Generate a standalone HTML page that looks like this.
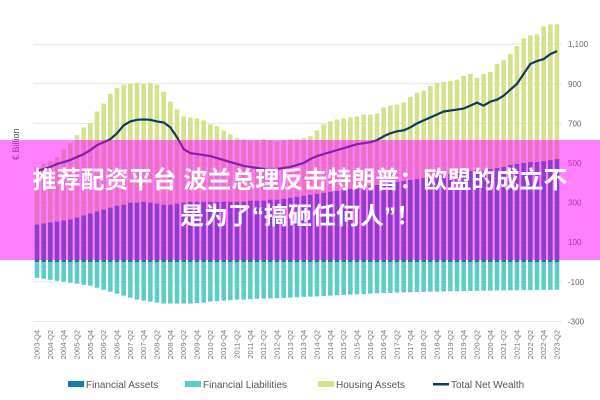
<!DOCTYPE html>
<html><head><meta charset="utf-8">
<style>
html,body{margin:0;padding:0;background:#fff;}
#wrap{position:relative;width:600px;height:400px;overflow:hidden;font-family:"Liberation Sans","Noto Sans CJK SC",sans-serif;}
#overlay{position:absolute;left:0;top:140px;width:600px;height:120px;background:rgba(255,0,255,0.5);}
#ovtext{position:absolute;left:0;top:163px;width:600px;text-align:center;color:#fff;font-weight:bold;font-size:24px;line-height:36px;font-family:"Liberation Sans","Noto Sans CJK SC",sans-serif;letter-spacing:0px;}
</style></head>
<body>
<div id="wrap">
<svg id="chart" width="600" height="400"></svg>
<div id="overlay"></div>
<div id="ovtext">推荐配资平台 波兰总理反击特朗普：欧盟的成立不<br>是为了“搞砸任何人”！</div>
</div>
<script>
const financialAssets=[190,195,200,205,210,215,225,235,245,255,265,275,285,290,300,
300,305,300,295,290,290,295,300,305,305,305,305,305,305,305,305,305,310,310,310,315,315,320,325,
330,335,340,345,350,355,360,365,370,375,380,385,390,395,400,405,410,415,420,425,430,435,
440,445,450,455,460,465,460,470,475,480,490,495,500,505,505,510,515,520];
const housingAssets=[290,300,310,325,360,385,415,445,455,505,535,575,595,605,600,605,595,605,600,570,520,475,435,425,420,410,390,380,360,340,320,315,305,305,310,300,295,295,295,290,290,295,320,345,355,360,360,360,360,365,360,360,385,390,390,395,420,435,440,460,470,470,470,470,485,490,465,490,490,525,540,560,595,630,640,645,680,685,680];
const financialLiabilities=[-80,-85,-90,-95,-100,-105,-110,-115,-120,-130,-140,-150,-160,-170,-180,-190,-195,-200,-205,-210,-210,
-210,-210,-210,-208,-205,-200,-198,-195,-193,-190,-190,-188,-186,-185,-184,-183,-182,-180,-178,-176,
-175,-174,-172,-170,-168,-166,-165,-163,-162,-160,-158,-157,-156,-155,-154,-153,-152,-151,-150,-150,-149,-148,-148,-147,-146,-146,-145,-145,-144,-144,-143,-143,-142,-142,-141,-141,-140,-140];
const netWealth=[460,470,480,495,505,515,530,545,565,590,605,620,
650,690,710,718,720,718,710,705,680,630,
570,550,545,540,535,525,515,505,495,485,480,475,470,470,470,475,480,490,500,
520,535,545,555,565,575,585,595,600,605,615,635,650,660,665,680,700,715,730,745,
760,765,770,775,790,805,790,810,820,840,870,900,950,1000,1015,1025,1050,1065];
const yTicks=[1100,900,700,500,300,100,-100,-300];
const yTickLabels=["1,100","900","700","500","300","100","-100","-300"];
const startYear=2003, startQ=4;
const quarters=[];
{let y=startYear,q=startQ;for(let i=0;i<financialAssets.length;i++){quarters.push(y+"-Q"+q);q++;if(q>4){q=1;y++;}}}

const NS="http://www.w3.org/2000/svg";
const svg=document.getElementById('chart');
const x0=37,x1=557;
const n=quarters.length;
function xPos(i){return x0+i*(x1-x0)/(n-1);}
function yPos(v){return 262-v*(39.6/200);}
function mk(tag,attrs){const e=document.createElementNS(NS,tag);for(const k in attrs)e.setAttribute(k,attrs[k]);svg.appendChild(e);return e;}

yTicks.forEach((t,i)=>{
  const l=mk('line',{x1:33,x2:562,y1:yPos(t),y2:yPos(t),stroke:'#e4e4e4','stroke-width':1});
  
  
  const tx=mk('text',{x:568,y:yPos(t)+3,'font-size':8,fill:'#666','font-family':'Liberation Sans, sans-serif'});
  tx.textContent=yTickLabels[i];
  
  
});
const yt=mk('text',{x:0,y:0,'font-size':9,fill:'#555',transform:'translate(19,160) rotate(-90)','font-family':'Liberation Sans, sans-serif'});
yt.textContent='€ Billion';



const bw=4.6;
for(let i=0;i<n;i++){
  const x=xPos(i)-bw/2;
  const fa=mk('rect',{x:x,width:bw,y:yPos(financialAssets[i]),height:yPos(0)-yPos(financialAssets[i]),fill:'#1b7b98'});
  
  
  const top=financialAssets[i]+housingAssets[i];
  const ha=mk('rect',{x:x,width:bw,y:yPos(top),height:yPos(financialAssets[i])-yPos(top),fill:'#d5e18c'});
  
  
  const fl=mk('rect',{x:x,width:bw,y:yPos(0),height:yPos(financialLiabilities[i])-yPos(0),fill:'#5fcdc7'});
  
  
  if(i%2===0){
    const tx=mk('text',{x:0,y:0,'font-size':7.5,fill:'#777','text-anchor':'end',transform:`translate(${xPos(i)+2.5},330) rotate(-90)`,'font-family':'Liberation Sans, sans-serif'});
    tx.textContent=quarters[i];
    
    
  }
}
const pl=mk('polyline',{points:netWealth.map((v,i)=>xPos(i)+','+yPos(v)).join(' '),fill:'none',stroke:'#0e3b5c','stroke-width':2.2,'stroke-linejoin':'round'});



const legend=[["Financial Assets","#1b7b98",68,"rect"],["Financial Liabilities","#5fcdc7",185,"rect"],["Housing Assets","#d5e18c",318,"rect"],["Total Net Wealth","#0e3b5c",433,"line"]];
legend.forEach(l=>{
  let m;
  if(l[3]==="rect") m=mk('rect',{x:l[2],y:381,width:16,height:6,fill:l[1]});
  else m=mk('rect',{x:l[2],y:383,width:16,height:2.5,fill:l[1]});
  
  
  const t=mk('text',{x:l[2]+18,y:388,'font-size':10,fill:'#555','font-family':'Liberation Sans, sans-serif'});
  t.textContent=l[0];
  
  
});
</script>
</body></html>
